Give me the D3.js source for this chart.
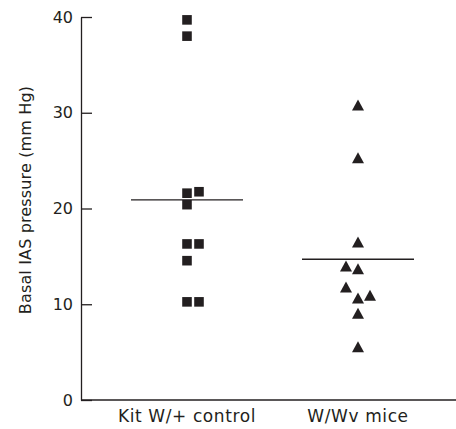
<!DOCTYPE html>
<html>
<head>
<meta charset="utf-8">
<script src="https://cdn.jsdelivr.net/npm/d3@7"></script>
<style>
  body { margin: 0; background: #fff; }
  svg text { font-family: "DejaVu Sans", sans-serif; fill: #231f20; }
</style>
</head>
<body>
<div id="chart"></div>
<script>
// Data
const groups = ["Kit W/+ control", "W/Wv mice"];

const controlValues = [39.7, 38.0, 21.6, 21.75, 20.4, 16.3, 16.3, 14.55, 10.25, 10.25];
const controlColumn = [0, 0, 0, 1, 0, 0, 1, 0, 0, 1];

const wwvValues = [30.8, 25.3, 16.5, 14.0, 13.7, 11.8, 10.65, 10.95, 9.05, 5.55];
const wwvColumn = [0, 0, 0, -1, 0, -1, 0, 1, 0, 0];

const groupMeans = [20.9, 14.7];
const yTicks = [0, 10, 20, 30, 40];

const width = 456, height = 429;
const ink = "#231f20";

const svg = d3.select("#chart").append("svg")
  .attr("width", width)
  .attr("height", height);

// scales
const y = d3.scaleLinear().domain([0, 40]).range([400, 17]);
const x = d3.scalePoint().domain(groups).range([187, 358]);
const dodge = d3.scaleLinear().domain([-1, 1]).range([-12, 12]);
const axisLeftX = 81;

// y axis (ticks point inward)
const yAxis = svg.append("g")
  .attr("transform", `translate(${axisLeftX},0)`)
  .call(d3.axisLeft(y).tickValues(yTicks).tickSizeInner(-11).tickSizeOuter(0).tickPadding(8));
yAxis.select(".domain").attr("stroke", ink).attr("stroke-width", 1.3);
yAxis.selectAll(".tick line").attr("stroke", ink).attr("stroke-width", 1.3);
yAxis.selectAll(".tick text")
  .attr("font-size", 16)
  .attr("font-family", "DejaVu Sans, sans-serif")
  .attr("fill", ink);

// x axis: a plain baseline plus category labels
svg.append("line")
  .attr("x1", axisLeftX).attr("x2", width)
  .attr("y1", y(0)).attr("y2", y(0))
  .attr("stroke", ink).attr("stroke-width", 1.3);

svg.selectAll(".xlab")
  .data(groups)
  .enter().append("text")
  .attr("class", "xlab")
  .attr("x", d => x(d))
  .attr("y", 422)
  .attr("text-anchor", "middle")
  .attr("font-size", 17)
  .attr("letter-spacing", 0.6)
  .text(d => d);

// y axis title
svg.append("text")
  .attr("transform", "translate(31,200) rotate(-90)")
  .attr("text-anchor", "middle")
  .attr("font-size", 16)
  .attr("letter-spacing", 0.15)
  .text("Basal IAS pressure (mm Hg)");

// custom triangle: 12 wide, 11 tall, centred on its bounding box
const triangle = {
  draw(ctx) {
    ctx.moveTo(0, -5.5);
    ctx.lineTo(6, 5.5);
    ctx.lineTo(-6, 5.5);
    ctx.closePath();
  }
};

const controlPts = controlValues.map((v, i) => ({ v, col: controlColumn[i] }));
const wwvPts = wwvValues.map((v, i) => ({ v, col: wwvColumn[i] }));

svg.selectAll(".sq")
  .data(controlPts)
  .enter().append("path")
  .attr("class", "sq")
  .attr("d", d3.symbol(d3.symbolSquare, 92))
  .attr("transform", d => `translate(${x(groups[0]) + dodge(d.col)},${y(d.v)})`)
  .attr("fill", ink);

svg.selectAll(".tri")
  .data(wwvPts)
  .enter().append("path")
  .attr("class", "tri")
  .attr("d", d3.symbol(triangle))
  .attr("transform", d => `translate(${x(groups[1]) + dodge(d.col)},${y(d.v)})`)
  .attr("fill", ink);

// group mean lines
svg.selectAll(".mean")
  .data(groupMeans)
  .enter().append("line")
  .attr("class", "mean")
  .attr("x1", (d, i) => x(groups[i]) - 56)
  .attr("x2", (d, i) => x(groups[i]) + 56)
  .attr("y1", d => y(d))
  .attr("y2", d => y(d))
  .attr("stroke", ink)
  .attr("stroke-width", 1.4);
</script>
</body>
</html>
